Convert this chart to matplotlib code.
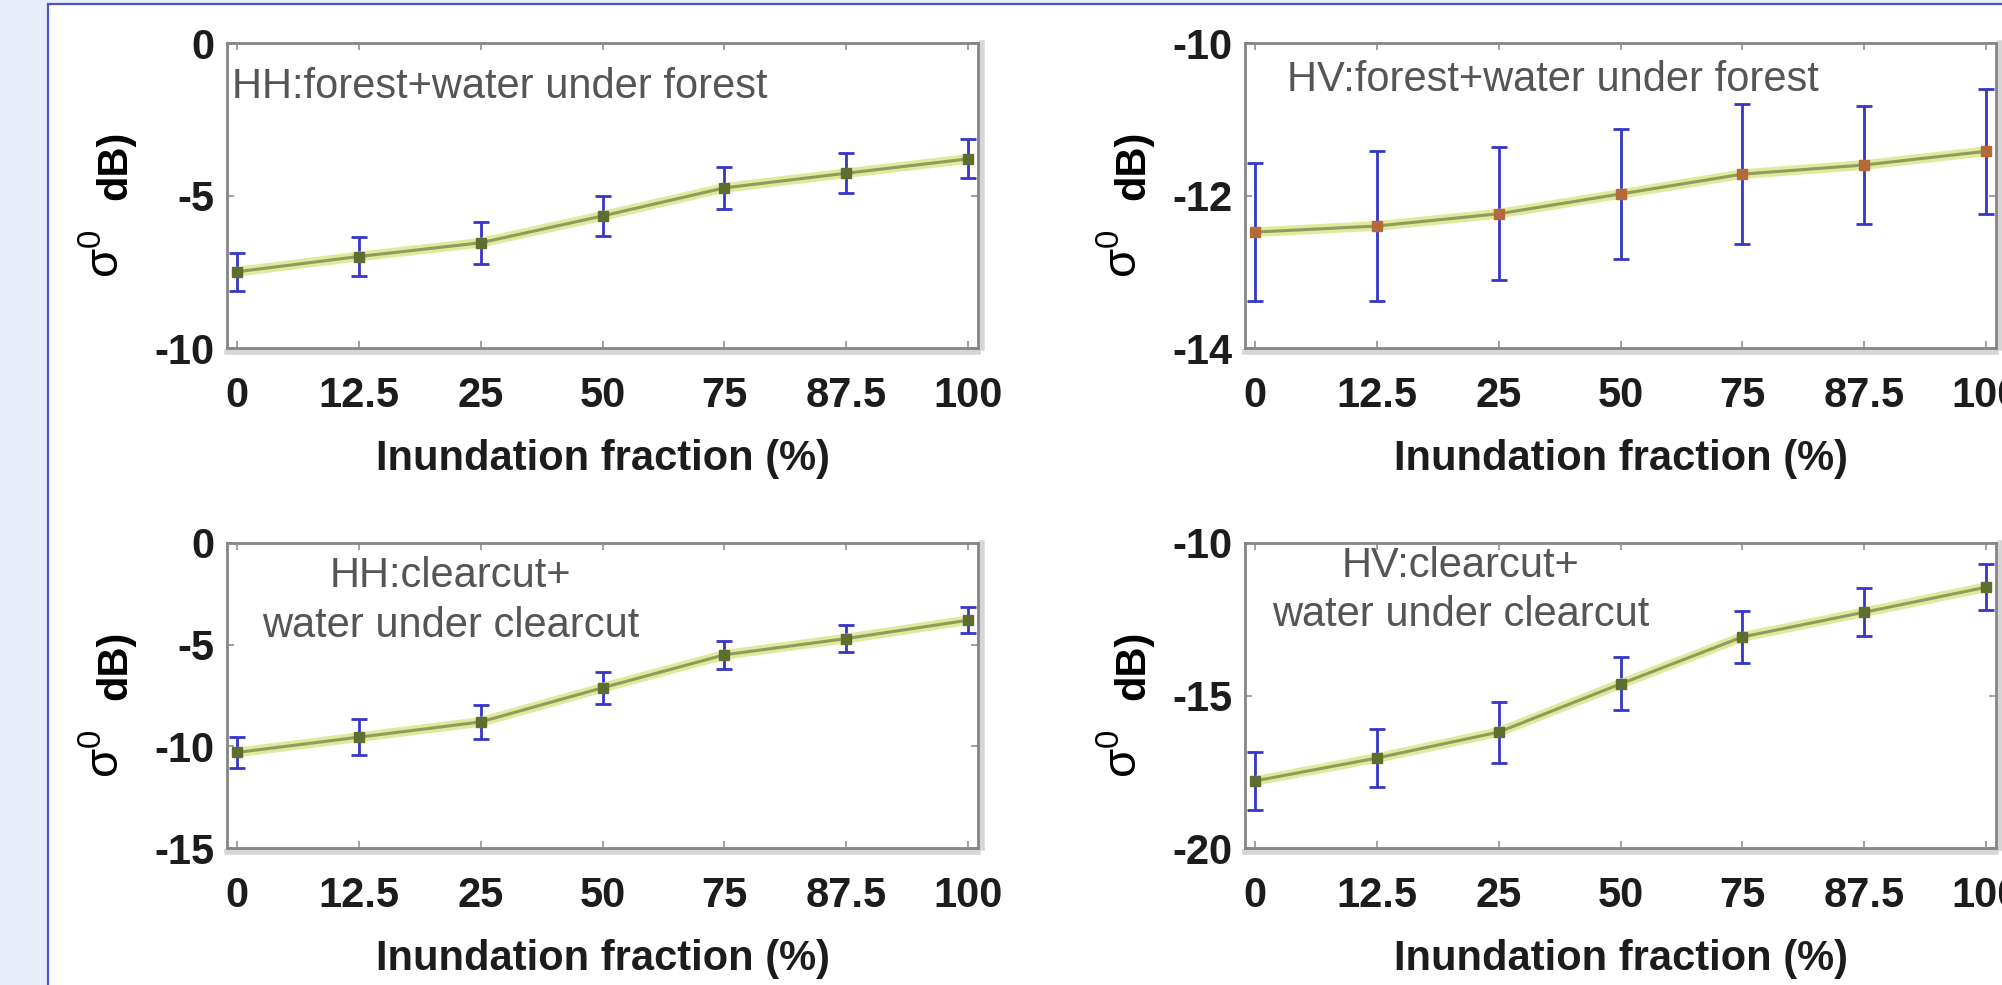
import matplotlib
matplotlib.use("Agg")
import matplotlib.pyplot as plt
from matplotlib.patches import Rectangle
from matplotlib.transforms import offset_copy, blended_transform_factory
import numpy as np

plt.rcParams['font.family'] = ['Liberation Sans', 'DejaVu Sans']
plt.rcParams['axes.unicode_minus'] = False
plt.rcParams['mathtext.fontset'] = 'custom'
plt.rcParams['mathtext.rm'] = 'Liberation Sans'

# ---- data ----
tick_labels = ['0', '12.5', '25', '50', '75', '87.5', '100']

hh_forest = [-7.5, -7.0, -6.55, -5.67, -4.75, -4.27, -3.8]
hh_forest_err = [0.62, 0.65, 0.68, 0.66, 0.68, 0.65, 0.64]

hv_forest = [-12.48, -12.4, -12.24, -11.98, -11.72, -11.6, -11.42]
hv_forest_err = [0.91, 0.98, 0.87, 0.85, 0.92, 0.77, 0.82]

hh_clear = [-10.3, -9.55, -8.8, -7.12, -5.5, -4.7, -3.8]
hh_clear_err = [0.78, 0.9, 0.85, 0.8, 0.7, 0.68, 0.65]

hv_clear = [-17.8, -17.05, -16.2, -14.62, -13.08, -12.27, -11.45]
hv_clear_err = [0.95, 0.94, 1.0, 0.87, 0.86, 0.78, 0.76]

panels = [
    dict(y=hh_forest, err=hh_forest_err, ylim=(-10, 0), yticks=[-10, -5, 0],
         label='HH:forest+water under forest', marker='#5f6e2e'),
    dict(y=hv_forest, err=hv_forest_err, ylim=(-14, -10), yticks=[-14, -12, -10],
         label='HV:forest+water under forest', marker='#b46a38'),
    dict(y=hh_clear, err=hh_clear_err, ylim=(-15, 0), yticks=[-15, -10, -5, 0],
         label='HH:clearcut+\nwater under clearcut', marker='#5f6e2e'),
    dict(y=hv_clear, err=hv_clear_err, ylim=(-20, -10), yticks=[-20, -15, -10],
         label='HV:clearcut+\nwater under clearcut', marker='#5f6e2e'),
]

W, H = 2002, 985
fig = plt.figure(figsize=(W / 100, H / 100), dpi=100)
fig.patch.set_facecolor('#e8edf9')

# white sheet with blue frame, kept behind the axes
sheet = Rectangle((48 / W, -0.05), 1.2, 1.05 - 4 / H, transform=fig.transFigure,
                  facecolor='white', edgecolor='#4a55c8', linewidth=1.6, zorder=-10)
fig.patches.append(sheet)

lefts = [227, 1245]
tops = [43, 543]
ax_w, ax_h = 751, 305

x = np.arange(len(tick_labels))
spine_col = '#858585'

for i, p in enumerate(panels):
    col, row = i % 2, i // 2
    l, t = lefts[col], tops[row]
    ax = fig.add_axes([l / W, 1 - (t + ax_h) / H, ax_w / W, ax_h / H])
    ax.set_facecolor('white')

    ax.errorbar(x, p['y'], yerr=p['err'], fmt='none', ecolor='#3636c8',
                elinewidth=2, capsize=6, capthick=2, zorder=2)
    ax.plot(x, p['y'], color='#e0e99c', lw=7, solid_capstyle='round', zorder=3)
    ax.plot(x, p['y'], color='#909c5c', lw=2.2, zorder=4)
    ax.plot(x, p['y'], ls='none', marker='s', ms=7.5, color=p['marker'],
            markeredgecolor=p['marker'], zorder=5)

    ax.set_xlim(-0.082, 6.082)
    ax.set_ylim(*p['ylim'])
    ax.set_xticks(x)
    ax.set_xticklabels(tick_labels)
    ax.set_yticks(p['yticks'])
    ax.tick_params(direction='in', length=5, width=1.2, color='#909090',
                   top=True, right=True, labelsize=30, labelcolor='#1c1c1c')
    ax.tick_params(axis='x', pad=20)
    ax.tick_params(axis='y', pad=9)
    for lab in ax.get_xticklabels() + ax.get_yticklabels():
        lab.set_fontweight('bold')
    for s in ax.spines.values():
        s.set_color(spine_col)
        s.set_linewidth(2)

    # soft shadow under bottom and right spines
    ax.plot([0, 1], [0, 0], transform=offset_copy(ax.transAxes, fig, y=-4, units='dots'),
            color='#d6d6d6', lw=4, clip_on=False, zorder=-1)
    ax.plot([1, 1], [0, 1], transform=offset_copy(ax.transAxes, fig, x=4, units='dots'),
            color='#d6d6d6', lw=4, clip_on=False, zorder=-1)

    ax.set_xlabel('Inundation fraction (%)', fontsize=30, fontweight='bold',
                  color='#1c1c1c', labelpad=17)

    # y label pieces: sigma0 and "dB)"
    ax.text(0, 0.31, 'σ$^0$', rotation=90, fontsize=34, ha='center', va='center',
            color='black', transform=offset_copy(ax.transAxes, fig, x=-120, units='dots'))
    ax.text(0, 0.60, 'dB)', rotation=90, fontsize=30, fontweight='bold', ha='center',
            va='center', color='black',
            transform=offset_copy(ax.transAxes, fig, x=-112, units='dots'))

    if row == 0:
        ax.text(0, 1, p['label'], fontsize=30, color='#555555', ha='left', va='center',
                transform=offset_copy(ax.transAxes, fig, x=5 if col == 0 else 42,
                                      y=-44 if col == 0 else -37, units='dots'))
    else:
        mixed = blended_transform_factory(ax.transData, ax.transAxes)
        ax.text(1.75 if col == 0 else 1.69, 0.81 if col == 0 else 0.845, p['label'],
                fontsize=30, color='#555555', ha='center', va='center',
                multialignment='center', linespacing=1.3, transform=mixed)

fig.savefig('out.png', dpi=100, facecolor=fig.get_facecolor())
